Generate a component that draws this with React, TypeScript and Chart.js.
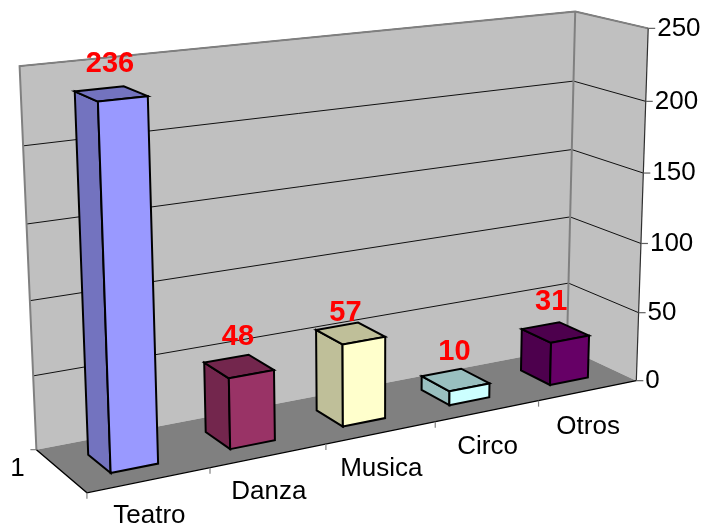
import React, { useEffect, useRef } from "react";
import { Chart, registerables } from "chart.js";

Chart.register(...registerables);

const categories = ["Teatro", "Danza", "Musica", "Circo", "Otros"];
const values = [236, 48, 57, 10, 31];
const frontColors = ["#9999FF", "#993366", "#FFFFCC", "#CCFFFF", "#660066"];
const sideColors = ["#7373BF", "#73264D", "#BFBF99", "#99BFBF", "#4D004D"];
const seriesNames = ["1"];
const yMax = 250;
const yStep = 50;
const labelNudgeX = [-1, -1, -5, -1, -4];
const labelNudgeY = [-30, -29, -20, -28, -30];

// Camera calibration: [category position 0..1, depth 0..1, value 0..1] -> canvas point
const calibration: number[][] = [
  [0, 0, 0, 88, 491],
  [0.2, 0, 0, 210, 468],
  [0.4, 0, 0, 326, 446],
  [0.6, 0, 0, 436, 423],
  [0.8, 0, 0, 538, 402],
  [1, 0, 0, 636, 380],
  [0, 1, 0, 35, 449],
  [1, 1, 0, 568, 346],
  [0, 1, 1, 19, 66],
  [1, 1, 1, 575, 12],
  [1, 0, 1, 648, 27],
  [1, 0, 0.8, 646, 101],
  [1, 0, 0.6, 643, 173],
  [1, 0, 0.2, 638, 312],
  [0, 1, 0.8, 24, 146],
  [0, 1, 0.2, 33, 376],
  [1, 1, 0.8, 574, 82],
  [1, 1, 0.6, 572, 150],
  [1, 1, 0.2, 568, 284],
];

function solveCamera(points: number[][]): number[] {
  const n = 11;
  const A = Array.from({ length: n }, () => new Array(n + 1).fill(0));
  const add = (row: number[], rhs: number) => {
    for (let i = 0; i < n; i++) {
      for (let j = 0; j < n; j++) A[i][j] += row[i] * row[j];
      A[i][n] += row[i] * rhs;
    }
  };
  for (const [u, d, v, px, py] of points) {
    const x = px / 700;
    const y = py / 700;
    add([u, d, v, 1, 0, 0, 0, 0, -x * u, -x * d, -x * v], x);
    add([0, 0, 0, 0, u, d, v, 1, -y * u, -y * d, -y * v], y);
  }
  for (let c = 0; c < n; c++) {
    let p = c;
    for (let r = c + 1; r < n; r++) if (Math.abs(A[r][c]) > Math.abs(A[p][c])) p = r;
    [A[c], A[p]] = [A[p], A[c]];
    for (let r = 0; r < n; r++) {
      if (r === c) continue;
      const f = A[r][c] / A[c][c];
      for (let k = c; k <= n; k++) A[r][k] -= f * A[c][k];
    }
  }
  return A.map((row, i) => row[n] / row[i]);
}

const cam = solveCamera(calibration);
const project = (u: number, d: number, v: number): [number, number] => {
  const w = cam[8] * u + cam[9] * d + cam[10] * v + 1;
  return [
    (700 * (cam[0] * u + cam[1] * d + cam[2] * v + cam[3])) / w,
    (700 * (cam[4] * u + cam[5] * d + cam[6] * v + cam[7])) / w,
  ];
};

const BAR_FRONT = 0.27;
const BAR_BACK = 0.7;
const FONT = '"Liberation Sans", Arial, sans-serif';

function poly(ctx: CanvasRenderingContext2D, pts: [number, number][], fill?: string, stroke?: string, lw = 1) {
  ctx.beginPath();
  pts.forEach((p, i) => (i ? ctx.lineTo(p[0], p[1]) : ctx.moveTo(p[0], p[1])));
  if (fill) {
    ctx.closePath();
    ctx.fillStyle = fill;
    ctx.fill();
  }
  if (stroke) {
    ctx.strokeStyle = stroke;
    ctx.lineWidth = lw;
    ctx.lineJoin = "miter";
    ctx.stroke();
  }
}

const box3d = {
  id: "box3d",
  beforeDatasetsDraw(chart: any) {
    const ctx: CanvasRenderingContext2D = chart.ctx;
    const xs = chart.scales.x;
    const ys = chart.scales.y;
    const nu = (px: number) => (px - xs.left) / xs.width;
    const nv = (py: number) => (ys.bottom - py) / ys.height;
    ctx.save();

    // walls and floor
    poly(ctx, [project(0, 1, 0), project(1, 1, 0), project(1, 1, 1), project(0, 1, 1)], "#C0C0C0");
    poly(ctx, [project(1, 1, 0), project(1, 0, 0), project(1, 0, 1), project(1, 1, 1)], "#C0C0C0");
    poly(ctx, [project(0, 0, 0), project(1, 0, 0), project(1, 1, 0), project(0, 1, 0)], "#808080");

    // grid lines
    for (const t of ys.ticks) {
      if (t.value === 0) continue;
      const v = nv(ys.getPixelForValue(t.value));
      poly(ctx, [project(0, 1, v), project(1, 1, v), project(1, 0, v)], undefined, "#111111", 1);
    }

    // wall outlines
    poly(ctx, [project(0, 1, 0), project(0, 1, 1), project(1, 1, 1), project(1, 0, 1)], undefined, "#808080", 2);
    poly(ctx, [project(1, 1, 0), project(1, 1, 1)], undefined, "#808080", 2);
    poly(ctx, [project(1, 0, 0), project(1, 0, 1)], undefined, "#303030", 1.2);
    poly(ctx, [project(0, 1, 0), project(0, 0, 0), project(1, 0, 0)], undefined, "#000000", 1.4);

    // ticks
    for (const t of ys.ticks) {
      const p = project(1, 0, nv(ys.getPixelForValue(t.value)));
      poly(ctx, [p, [p[0] + 7, p[1]]], undefined, "#606060", 1.2);
      ctx.fillStyle = "#000000";
      ctx.font = `26px ${FONT}`;
      ctx.textAlign = "left";
      ctx.textBaseline = "middle";
      ctx.fillText(String(t.value), p[0] + 9, p[1]);
    }
    categories.forEach((_, i) => {
      const p = project(nu(xs.left + (i / categories.length) * xs.width), 0, 0);
      poly(ctx, [p, [p[0], p[1] + 6]], undefined, "#808080", 1.2);
    });
    categories.forEach((_, i) => {
      const p = project(nu(xs.getPixelForValue(i)), 0, 0);
      ctx.fillStyle = "#000000";
      ctx.font = `26px ${FONT}`;
      ctx.textAlign = "center";
      ctx.textBaseline = "middle";
      ctx.fillText(xs.getLabelForValue(i), p[0], p[1] + 36);
    });
    const bl = project(0, 1, 0);
    poly(ctx, [bl, [bl[0] - 6, bl[1]]], undefined, "#808080", 1.2);
    ctx.fillStyle = "#000000";
    ctx.textAlign = "center";
    ctx.fillText(seriesNames[0], bl[0] - 19, bl[1] + 19);

    // bars
    const meta = chart.getDatasetMeta(0);
    const ds = chart.data.datasets[0];
    meta.data.forEach((bar: any, i: number) => {
      const u0 = nu(bar.x - bar.width / 2);
      const u1 = nu(bar.x + bar.width / 2);
      const v0 = nv(bar.base);
      const v1 = nv(bar.y);
      const d0 = BAR_FRONT;
      const d1 = BAR_BACK;
      poly(ctx, [project(u0, d0, v0), project(u0, d1, v0), project(u0, d1, v1), project(u0, d0, v1)], sideColors[i], "#000000", 2);
      poly(ctx, [project(u0, d0, v1), project(u0, d1, v1), project(u1, d1, v1), project(u1, d0, v1)], sideColors[i], "#000000", 2);
      poly(ctx, [project(u0, d0, v0), project(u1, d0, v0), project(u1, d0, v1), project(u0, d0, v1)], ds.backgroundColor[i], "#000000", 2);
    });

    // value labels
    meta.data.forEach((bar: any, i: number) => {
      const c = project(nu(bar.x), (BAR_FRONT + BAR_BACK) / 2, nv(bar.y));
      ctx.fillStyle = "#FF0000";
      ctx.font = `bold 29px ${FONT}`;
      ctx.textAlign = "center";
      ctx.textBaseline = "middle";
      ctx.fillText(String(ds.data[i]), c[0] + labelNudgeX[i], c[1] + labelNudgeY[i]);
    });
    ctx.restore();
    return false;
  },
};

export default function App() {
  const ref = useRef<HTMLCanvasElement>(null);
  useEffect(() => {
    document.body.style.margin = "0";
    document.body.style.background = "#FFFFFF";
    const chart = new Chart(ref.current as HTMLCanvasElement, {
      type: "bar",
      data: {
        labels: categories,
        datasets: [
          {
            label: seriesNames[0],
            data: values,
            backgroundColor: frontColors,
            barPercentage: 0.39,
            categoryPercentage: 1,
          },
        ],
      },
      options: {
        animation: false,
        responsive: false,
        layout: { padding: 0 },
        plugins: { legend: { display: false }, tooltip: { enabled: false } },
        scales: {
          x: { display: false },
          y: { display: false, min: 0, max: yMax, ticks: { stepSize: yStep } },
        },
      },
      plugins: [box3d],
    } as any);
    return () => chart.destroy();
  }, []);
  return <canvas ref={ref} width={702} height={526} style={{ display: "block" }} />;
}
